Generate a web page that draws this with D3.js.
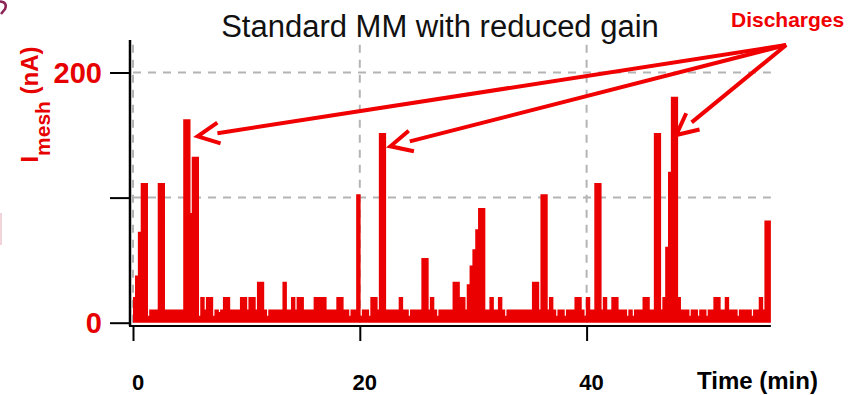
<!DOCTYPE html>
<html>
<head>
<meta charset="utf-8">
<script src="https://cdn.jsdelivr.net/npm/d3@7"></script>
<style>
  html, body { margin: 0; padding: 0; background: #fff; }
  svg { display: block; font-family: "Liberation Sans", Arial, sans-serif; }
</style>
</head>
<body>
<svg id="chart" width="850" height="395"></svg>
<script>
// Mesh current, one reading every 0.25 min (nA)
const binMinutes = 0.25;
const meshCurrent = [
  20, 37, 72, 111, 111, 5, 10, 10, 10, 111,
  111, 10, 10, 10, 10, 10, 10, 10, 162, 162,
  87, 132, 132, 5, 20, 10, 20, 20, 5, 10,
  8, 10, 20, 20, 10, 10, 10, 10, 20, 20,
  10, 20, 20, 10, 32, 32, 10, 5, 10, 10,
  10, 10, 10, 32, 10, 10, 20, 10, 20, 20,
  10, 10, 10, 10, 20, 20, 20, 20, 10, 10,
  10, 10, 20, 20, 10, 10, 5, 10, 10, 102,
  5, 10, 10, 5, 20, 20, 10, 151, 151, 10,
  10, 10, 10, 10, 20, 10, 10, 5, 10, 10,
  10, 10, 51, 51, 10, 20, 10, 5, 10, 10,
  10, 10, 10, 32, 32, 20, 20, 10, 30, 45,
  58, 74, 91, 91, 10, 10, 20, 10, 10, 20,
  10, 5, 10, 10, 10, 10, 10, 10, 10, 10,
  10, 32, 32, 10, 102, 102, 10, 20, 10, 5,
  10, 10, 5, 10, 10, 10, 20, 20, 10, 5,
  20, 10, 10, 111, 111, 10, 20, 10, 10, 20,
  20, 10, 10, 10, 5, 10, 5, 10, 10, 10,
  20, 20, 10, 10, 151, 151, 10, 20, 60, 120,
  180, 180, 20, 10, 10, 10, 5, 10, 10, 5,
  10, 10, 5, 10, 10, 20, 20, 10, 10, 20,
  10, 10, 10, 5, 10, 10, 10, 10, 5, 10,
  10, 20, 10, 81, 81
];

const xTicks = [0, 20, 40];
const yTicks = [0, 100, 200];
const yTickLabels = ["0", "", "200"];
const xGrid = [0, 20, 40];
const yGrid = [100, 200];

const titleText = "Standard MM with reduced gain";
const xTitle = "Time (min)";
const annotationText = "Discharges";
// Arrow tips and common start point, in (minutes, nA)
const arrowTips = [[5.7, 149], [22.7, 141], [47.9, 150]];
const arrowStart = [57.6, 222];

const svg = d3.select("#chart");
const red = "#ea0000";
const fontFam = "'Liberation Sans', Arial, sans-serif";

const tEnd = meshCurrent.length * binMinutes;
const x = d3.scaleLinear().domain([0, tEnd]).range([133, 133 + tEnd * 11.34]);
const y = d3.scaleLinear().domain([0, 226]).range([322.7, 40]);

const axisX = 130;      // vertical axis position
const axisY = 326;      // horizontal axis position

// Grid
const grid = svg.append("g").attr("stroke", "#b4b4b4").attr("stroke-width", 2)
  .attr("stroke-dasharray", "8,7").attr("fill", "none");
grid.selectAll("line.h").data(yGrid).join("line").attr("class", "h")
  .attr("x1", x(0)).attr("x2", x.range()[1])
  .attr("y1", d => y(d)).attr("y2", d => y(d));
grid.selectAll("line.v").data(xGrid).join("line").attr("class", "v")
  .attr("x1", d => x(d)).attr("x2", d => x(d))
  .attr("y1", y(0)).attr("y2", y.range()[1]);

// Series as a step trace
const pts = meshCurrent.map((v, i) => [i * binMinutes, v]);
pts.push([tEnd, meshCurrent[meshCurrent.length - 1]]);
const area = d3.area().curve(d3.curveStepAfter)
  .x(d => x(d[0])).y0(y(0)).y1(d => y(d[1]));
const line = d3.line().curve(d3.curveStepAfter)
  .x(d => x(d[0])).y(d => y(d[1]));
svg.append("path").attr("d", area(pts)).attr("fill", red);
svg.append("path").attr("d", line(pts)).attr("fill", "none")
  .attr("stroke", red).attr("stroke-width", 1.6).attr("stroke-linejoin", "miter");

// Y axis
const gY = svg.append("g").attr("transform", `translate(${axisX},0)`)
  .call(d3.axisLeft(y).tickValues(yTicks).tickSize(20).tickSizeOuter(0)
    .tickFormat(() => ""));
gY.select(".domain").remove();
gY.selectAll(".tick line").attr("stroke", "#000").attr("stroke-width", 2);
gY.selectAll(".tick text").remove();
gY.append("line").attr("x1", 0).attr("x2", 0)
  .attr("y1", y.range()[1]).attr("y2", axisY)
  .attr("stroke", "#000").attr("stroke-width", 2.5);

svg.append("g").selectAll("text").data(yTicks).join("text")
  .attr("x", axisX - 28).attr("y", d => y(d)).attr("dy", "0.36em")
  .attr("text-anchor", "end")
  .attr("fill", "#e60000").attr("font-size", 29).attr("font-weight", "bold")
  .attr("font-family", fontFam)
  .text((d, i) => yTickLabels[i]);

// X axis
const gX = svg.append("g").attr("transform", `translate(0,${axisY})`)
  .call(d3.axisBottom(x).tickValues(xTicks).tickSize(15).tickSizeOuter(0)
    .tickFormat(() => ""));
gX.select(".domain").remove();
gX.selectAll(".tick line").attr("stroke", "#000").attr("stroke-width", 2);
gX.selectAll(".tick text").remove();
gX.append("line").attr("x1", axisX - 1).attr("x2", x.range()[1])
  .attr("y1", 0).attr("y2", 0).attr("stroke", "#000").attr("stroke-width", 2);

svg.append("g").selectAll("text").data(xTicks).join("text")
  .attr("x", d => x(d) + 5).attr("y", 390)
  .attr("text-anchor", "middle")
  .attr("fill", "#000").attr("font-size", 22).attr("font-weight", "bold")
  .attr("font-family", fontFam)
  .text(d3.format("d"));

// Axis titles
svg.append("text").attr("x", 697).attr("y", 389)
  .attr("font-size", 24).attr("font-weight", "bold").attr("fill", "#000")
  .text(xTitle);

const yLab = svg.append("text")
  .attr("transform", "translate(38,104.5) rotate(-90)")
  .attr("text-anchor", "middle").attr("fill", "#e60000")
  .attr("font-weight", "bold").attr("font-size", 24);
yLab.append("tspan").text("I");
yLab.append("tspan").attr("dy", 12).attr("font-size", 21).text("mesh");
yLab.append("tspan").attr("dy", -12).text(" (nA)");

// Title
svg.append("text").attr("x", 440).attr("y", 37).attr("text-anchor", "middle")
  .attr("font-size", 31).attr("fill", "#111").text(titleText);

// Discharge annotation
svg.append("text").attr("x", 731).attr("y", 27)
  .attr("font-size", 21).attr("font-weight", "bold").attr("fill", "#f00000")
  .text(annotationText);

const arrows = svg.append("g").attr("stroke", "#f00000").attr("stroke-width", 4)
  .attr("fill", "none").attr("stroke-linecap", "butt");
const sx = x(arrowStart[0]), sy = y(arrowStart[1]);
arrowTips.forEach(([t, v]) => {
  const tx = x(t), ty = y(v);
  const ang = Math.atan2(sy - ty, sx - tx);
  const headLen = 24, spread = 26 * Math.PI / 180, gap = 20;
  arrows.append("line")
    .attr("x1", sx).attr("y1", sy)
    .attr("x2", tx + gap * Math.cos(ang)).attr("y2", ty + gap * Math.sin(ang));
  arrows.append("path").attr("stroke-linejoin", "miter")
    .attr("d", d3.line()([
      [tx + headLen * Math.cos(ang - spread), ty + headLen * Math.sin(ang - spread)],
      [tx, ty],
      [tx + headLen * Math.cos(ang + spread), ty + headLen * Math.sin(ang + spread)]
    ]));
});

// Slide edge remnants at the left border
svg.append("path").attr("d", "M0,1.5 C5,1.5 7,5 5,9 L1,14")
  .attr("fill", "none").attr("stroke", "#8a2456").attr("stroke-width", 2.5);
svg.append("rect").attr("x", 0).attr("y", 213).attr("width", 2).attr("height", 32)
  .attr("fill", "#f1d3da");
</script>
</body>
</html>
